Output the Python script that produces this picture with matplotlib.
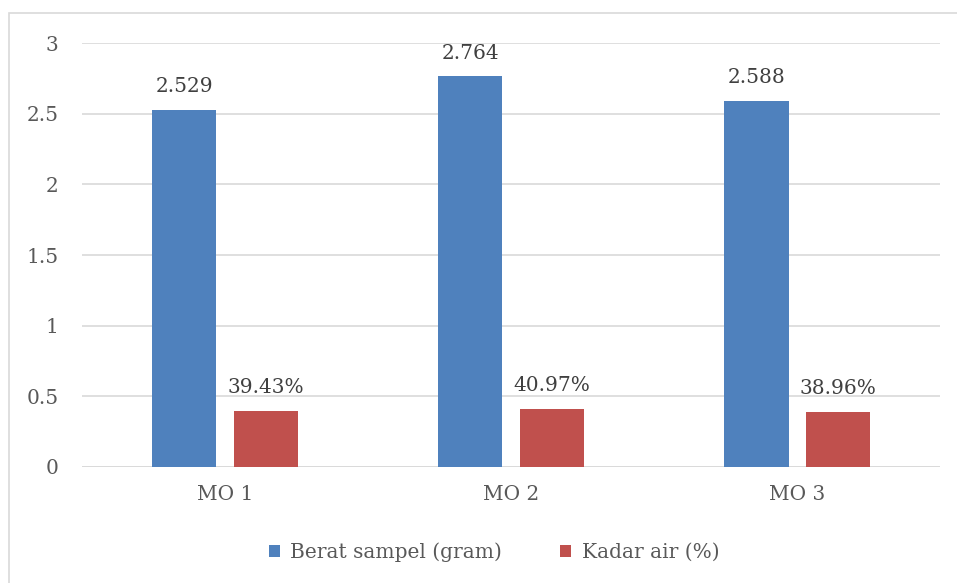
import numpy as np
import matplotlib
matplotlib.use('Agg')
import matplotlib.pyplot as plt
from matplotlib.patches import Rectangle

# data
kategori = ['MO 1', 'MO 2', 'MO 3']
berat = [2.529, 2.764, 2.588]
kadar_air = [0.3943, 0.4097, 0.3896]
label_berat = ['2.529', '2.764', '2.588']
label_kadar = ['39.43%', '40.97%', '38.96%']

biru = '#4F81BD'
merah = '#C0504D'
teks = '#595959'

plt.rcParams['font.family'] = ['DejaVu Serif']

fig = plt.figure(figsize=(9.57, 5.83), dpi=100)
ax = fig.add_axes([0.0857, 0.199, 0.897, 0.727])

# bingkai luar
fig.patches.append(Rectangle((9 / 957, -0.05), 1.2, 0.05 + 1 - 13 / 583,
                             transform=fig.transFigure, fill=False,
                             edgecolor='#D9D9D9', linewidth=1.2))

x = np.arange(len(kategori))
w = 0.224
off = 0.143
b1 = ax.bar(x - off, berat, w, color=biru, label='Berat sampel (gram)', zorder=3)
b2 = ax.bar(x + off, kadar_air, w, color=merah, label='Kadar air (%)', zorder=3)

for rect, lab in zip(b1, label_berat):
    ax.annotate(lab, (rect.get_x() + rect.get_width() / 2, rect.get_height()),
                xytext=(0, 10), textcoords='offset points', ha='center',
                va='bottom', fontsize=14.5, color='#404040')
for rect, lab in zip(b2, label_kadar):
    ax.annotate(lab, (rect.get_x() + rect.get_width() / 2, rect.get_height()),
                xytext=(0, 10), textcoords='offset points', ha='center',
                va='bottom', fontsize=14.5, color='#404040')

ax.set_xlim(-0.5, 2.5)
ax.set_ylim(0, 3)
ax.set_yticks([0, 0.5, 1, 1.5, 2, 2.5, 3])
ax.set_yticklabels(['0', '0.5', '1', '1.5', '2', '2.5', '3'])
ax.set_xticks(x)
ax.set_xticklabels(kategori)
ax.tick_params(axis='both', length=0, labelsize=14.5, labelcolor=teks)
ax.tick_params(axis='y', pad=17)
ax.tick_params(axis='x', pad=13)
ax.grid(axis='y', color='#D9D9D9', linewidth=1.2, zorder=0)
for s in ax.spines.values():
    s.set_visible(False)
ax.axhline(0, color='#D9D9D9', linewidth=1.2, zorder=1)

ax.legend(loc='upper center', bbox_to_anchor=(0.48, -0.135), ncol=2,
          frameon=False, fontsize=14.5, labelcolor=teks, handlelength=0.55,
          handleheight=0.55, handletextpad=0.5, columnspacing=2.9)

plt.savefig('out.png', dpi=100)
